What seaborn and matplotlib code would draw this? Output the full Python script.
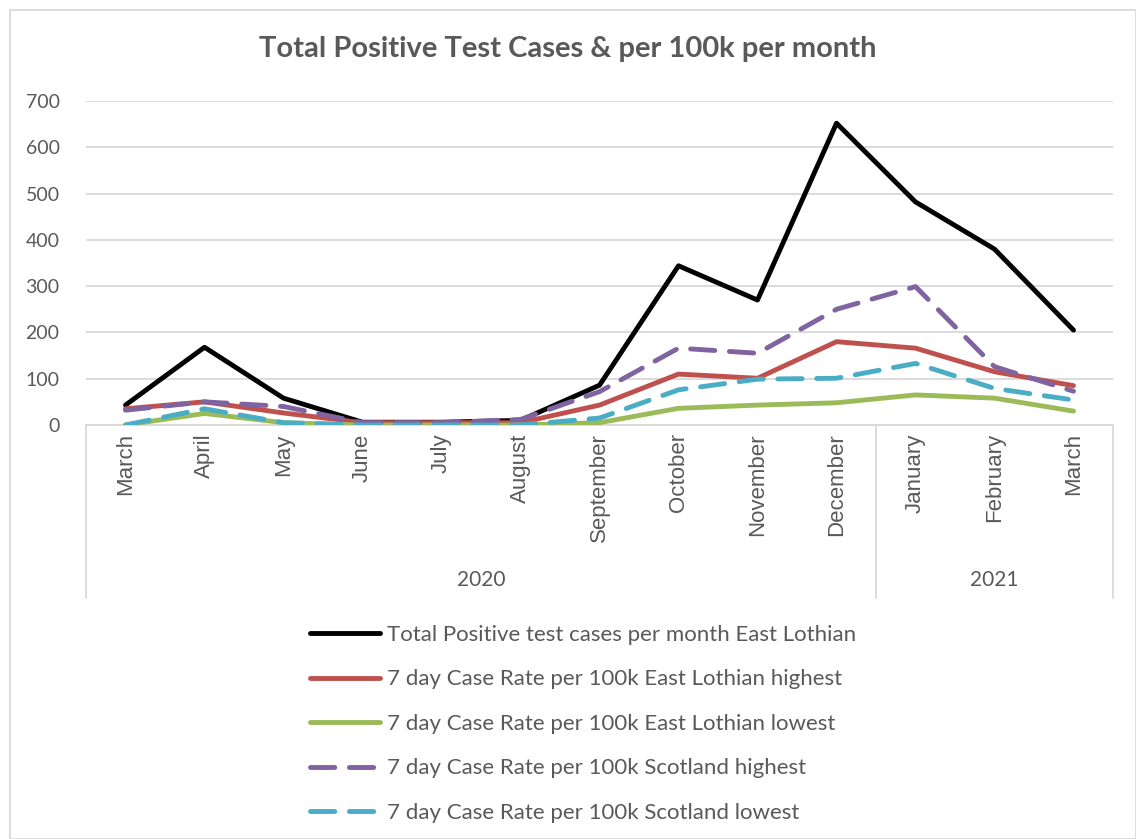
import numpy as np
import pandas as pd
import matplotlib
matplotlib.use("Agg")
import matplotlib.pyplot as plt
import seaborn as sns
from matplotlib.patches import Rectangle
import matplotlib.transforms as mtransforms

months = ["March", "April", "May", "June", "July", "August", "September",
          "October", "November", "December", "January", "February", "March"]
years = ["2020", "2021"]
year_counts = [10, 3]

total_el = [43, 168, 58, 6, 6, 10, 86, 344, 270, 652, 482, 380, 205]
el_high = [35, 50, 26, 5, 5, 5, 43, 110, 101, 180, 166, 115, 85]
el_low = [0, 25, 5, 0, 0, 0, 5, 36, 43, 48, 65, 58, 30]
sc_high = [32, 50, 40, 5, 5, 12, 72, 166, 155, 250, 299, 126, 73]
sc_low = [0, 35, 5, 0, 0, 0, 15, 76, 99, 101, 133, 79, 54]

series_names = ["Total Positive test cases per month East Lothian",
                "7 day Case Rate per 100k East Lothian highest",
                "7 day Case Rate per 100k East Lothian lowest",
                "7 day Case Rate per 100k Scotland highest",
                "7 day Case Rate per 100k Scotland lowest"]
series_vals = [total_el, el_high, el_low, sc_high, sc_low]
colors = ["#000000", "#C0504D", "#9BBB59", "#8064A2", "#4BACC6"]
dashed = [False, False, False, True, True]

sns.set_theme(style="white")
plt.rcParams['font.family'] = ['Lato', 'DejaVu Sans']
TXT = "#595959"

fig = plt.figure(figsize=(11.36, 8.39), dpi=100)
ax = fig.add_axes([86/1136, 1-425/839, (1113-86)/1136, (425-101)/839])

x = np.arange(len(months))
for name, vals, c, d in zip(series_names, series_vals, colors, dashed):
    df = pd.DataFrame({"x": x, "y": vals})
    sns.lineplot(data=df, x="x", y="y", ax=ax, color=c, lw=3.5,
                 solid_capstyle="round", dash_capstyle="round",
                 linestyle="--" if d else "-", label=name, zorder=3)
    if d:
        ax.lines[-1].set_dashes((5, 3.0))

ax.set_xlim(-0.5, 12.5)
ax.set_ylim(0, 700)
ax.set_yticks(range(0, 701, 100))
ax.yaxis.grid(True, color="#d9d9d9", lw=1.3)
ax.xaxis.grid(False)
for s in ["left", "right", "top"]:
    ax.spines[s].set_visible(False)
ax.spines["bottom"].set_color("#d9d9d9")
ax.spines["bottom"].set_linewidth(1.3)
ax.tick_params(axis="y", length=0, labelsize=14, labelcolor=TXT, pad=19)
ax.set_xticks(x)
ax.set_xticklabels(months, rotation=90, fontsize=16, color=TXT,
                   family=["Liberation Sans"], va="top")
ax.tick_params(axis="x", length=0, pad=6)
ax.set_xlabel("")
ax.set_ylabel("")

# category group separators and year labels
trans = mtransforms.blended_transform_factory(ax.transData, ax.transAxes)
ybot = -(598-425)/324
bounds = [-0.5]
for n in year_counts:
    bounds.append(bounds[-1] + n)
for b in bounds:
    ax.plot([b, b], [0, ybot], transform=trans, color="#d9d9d9", lw=1.3,
            clip_on=False)
for i, yr in enumerate(years):
    ax.text((bounds[i] + bounds[i+1]) / 2, -(580-425)/324, yr, transform=trans,
            ha="center", va="center", fontsize=15, color=TXT)

ax.get_legend().remove()
h, l = ax.get_legend_handles_labels()
fig.legend(h, l, loc="upper left", bbox_to_anchor=(290/1136, 1-605/839),
           frameon=False, fontsize=16, labelcolor=TXT, handlelength=3.15,
           labelspacing=1.1, handletextpad=0.3)

fig.text(0.5, 1-49/839, "Total Positive Test Cases & per 100k per month",
         ha="center", va="center", fontsize=21, fontweight="bold", color=TXT)

fig.patches.append(Rectangle((10/1136, 0), 1-10/1136, 1-10/839,
                             transform=fig.transFigure, fill=False,
                             edgecolor="#d9d9d9", lw=1.3))

fig.savefig("out.png", dpi=100)
